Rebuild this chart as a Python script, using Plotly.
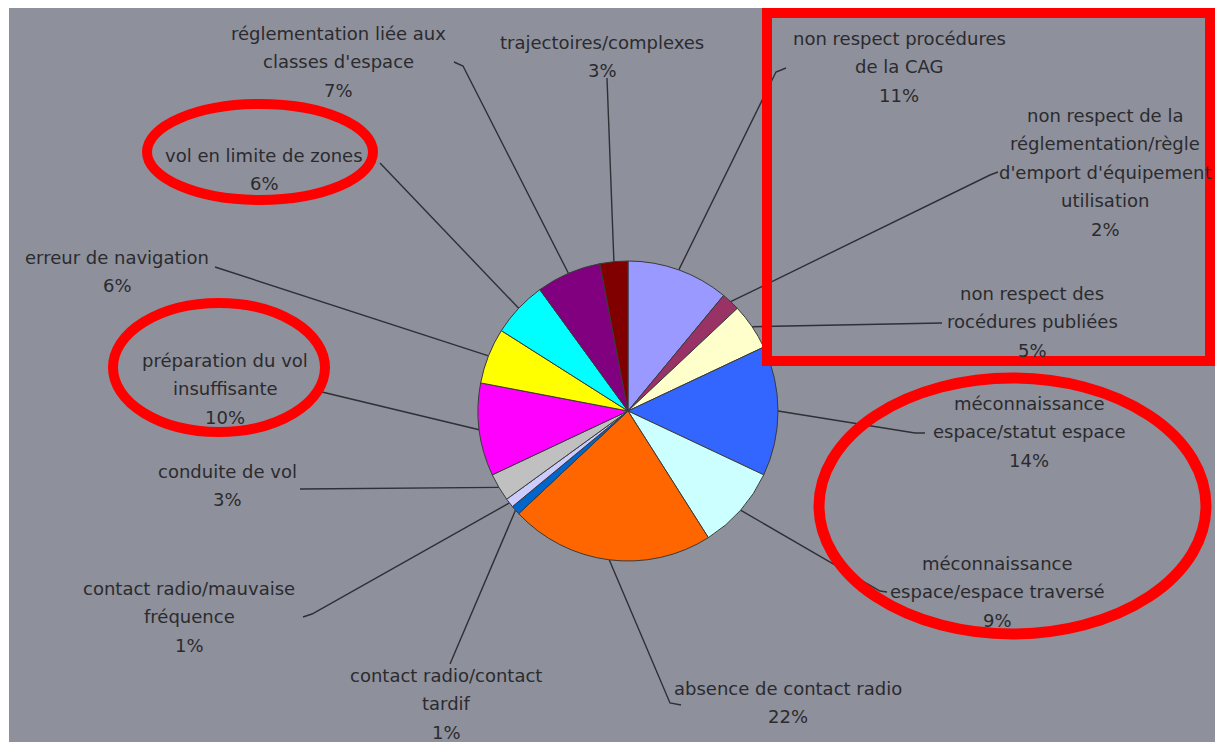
import math
import plotly.graph_objects as go

# Causes d'incidents, parts en pourcentage (sens horaire depuis midi)
labels = [
    "non respect procédures\nde la CAG",
    "non respect de la\nréglementation/règle\nd'emport d'équipement\nutilisation",
    "non respect des\nrocédures publiées",
    "méconnaissance\nespace/statut espace",
    "méconnaissance\nespace/espace traversé",
    "absence de contact radio",
    "contact radio/contact\ntardif",
    "contact radio/mauvaise\nfréquence",
    "conduite de vol",
    "préparation du vol\ninsuffisante",
    "erreur de navigation",
    "vol en limite de zones",
    "réglementation liée aux\nclasses d'espace",
    "trajectoires/complexes",
]
values = [11, 2, 5, 14, 9, 22, 1, 1, 3, 10, 6, 6, 7, 3]
colors = [
    "#9999FF", "#993366", "#FFFFCC", "#3366FF", "#CCFFFF", "#FF6600", "#0066CC",
    "#CCCCFF", "#C0C0C0", "#FF00FF", "#FFFF00", "#00FFFF", "#800080", "#800000",
]

# Page geometry (pixels)
W, H = 1215, 742
CX, CY, R = 628, 411, 150

# Label block centre x and y of the first text line, then leader-line path ends
label_pos = [
    (899, 38), (1105, 115), (1032, 293), (1029, 403), (997, 563), (788, 688),
    (446, 675), (189, 588), (227, 471), (225, 360), (117, 257), (264, 155),
    (338, 33), (602, 42),
]
leader_ends = [
    [(776, 72), (786, 68)],
    [(990, 175), (998, 172)],
    [(942, 323)],
    [(915, 433), (925, 433)],
    [(880, 591), (887, 592)],
    [(670, 703), (681, 705)],
    [(450, 664)],
    [(312, 614), (303, 617)],
    [(300, 489)],
    [(322, 392)],
    [(215, 267)],
    [(380, 163)],
    [(463, 66), (454, 62)],
    [(607, 78)],
]
LINE_STEP = 28.5

fig = go.Figure()
fig.add_trace(go.Pie(
    values=values,
    labels=[l.replace("\n", " ") for l in labels],
    marker=dict(colors=colors, line=dict(color="#3a3a3a", width=1)),
    sort=False,
    direction="clockwise",
    rotation=0,
    textinfo="none",
    hoverinfo="none",
    showlegend=False,
    domain=dict(x=[(CX - R) / W, (CX + R) / W],
                y=[(H - CY - R) / H, (H - CY + R) / H]),
))

shapes = [
    # white page with the grey slide area
    dict(type="rect", xref="x", yref="y", x0=9, y0=8, x1=W, y1=H,
         fillcolor="#8E909B", line=dict(width=0), layer="below"),
]

# leader lines from each slice's outer mid-point to its label
total = sum(values)
cum = 0
for v, ends in zip(values, leader_ends):
    mid = (cum + v / 2) / total * 2 * math.pi
    cum += v
    sx = CX + R * math.sin(mid)
    sy = CY - R * math.cos(mid)
    pts = [(sx, sy)] + ends
    path = "M " + " L ".join(f"{x:.1f},{y:.1f}" for x, y in pts)
    shapes.append(dict(type="path", xref="x", yref="y", path=path,
                       line=dict(color="#2f2f35", width=1.4), layer="below"))

# red highlight marks
red = "#FF0000"
shapes += [
    dict(type="rect", xref="x", yref="y", x0=767, y0=13, x1=1210, y1=361,
         line=dict(color=red, width=10), layer="above"),
    dict(type="circle", xref="x", yref="y", x0=147, y0=104, x1=373, y1=200,
         line=dict(color=red, width=10), layer="above"),
    dict(type="circle", xref="x", yref="y", x0=113, y0=303, x1=325, y1=432,
         line=dict(color=red, width=10), layer="above"),
    dict(type="circle", xref="x", yref="y", x0=819, y0=378, x1=1206, y1=634,
         line=dict(color=red, width=11), layer="above"),
]

annotations = []
for lab, v, (lx, ly) in zip(labels, values, label_pos):
    lines = lab.split("\n") + [f"{v}%"]
    for i, t in enumerate(lines):
        annotations.append(dict(
            x=lx, y=ly + i * LINE_STEP, xref="x", yref="y", text=t,
            showarrow=False, xanchor="center", yanchor="middle",
            font=dict(family="DejaVu Sans", size=18, color="#2b2b2e"),
        ))

fig.update_layout(
    width=W, height=H,
    margin=dict(l=0, r=0, t=0, b=0),
    paper_bgcolor="#FFFFFF",
    plot_bgcolor="rgba(0,0,0,0)",
    xaxis=dict(range=[0, W], visible=False, domain=[0, 1], fixedrange=True),
    yaxis=dict(range=[H, 0], visible=False, domain=[0, 1], fixedrange=True),
    shapes=shapes,
    annotations=annotations,
    showlegend=False,
)

fig.write_html("out.html")
